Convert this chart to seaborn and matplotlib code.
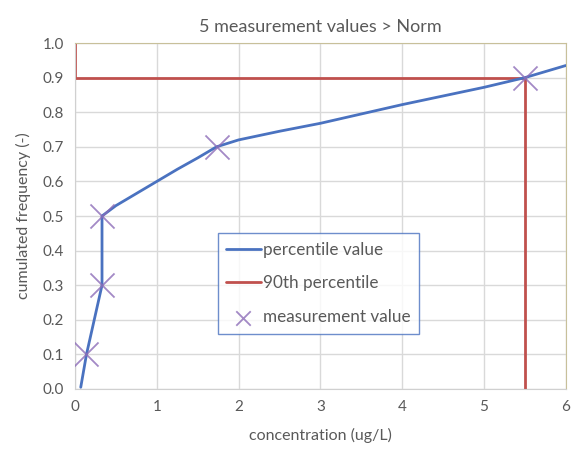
import pandas as pd
import matplotlib.pyplot as plt
import seaborn as sns

# percentile curve (concentration vs cumulated frequency)
curve_x = [0.07, 0.14, 0.33, 0.33, 0.5, 0.75, 1.0, 1.25, 1.5, 1.73, 2.0, 2.5, 3.0, 3.5, 4.0, 4.5, 5.0, 5.5, 6.0]
curve_y = [0.005, 0.1, 0.3, 0.5, 0.53, 0.565, 0.6, 0.635, 0.668, 0.70, 0.72, 0.745, 0.768, 0.795, 0.822, 0.847, 0.872, 0.9, 0.935]

# 90th percentile guide
p90_x = [0.0, 0.0, 5.5, 5.5]
p90_y = [1.0, 0.9, 0.9, 0.0]

# measurement values
meas_x = [0.14, 0.33, 0.33, 1.73, 5.5]
meas_y = [0.1, 0.3, 0.5, 0.7, 0.9]

sns.set_style("white")
plt.rcParams['font.family'] = ['Lato', 'DejaVu Sans']

fig = plt.figure(figsize=(5.74, 4.54), dpi=100)
ax = fig.add_axes([0.1307, 0.1432, 0.855, 0.762])

blue = "#4a72c0"
red = "#c0504d"
purple = "#8c6cb8"

sns.lineplot(x=curve_x, y=curve_y, sort=False, estimator=None, color=blue, lw=2,
             ax=ax, label="percentile value", zorder=3)
sns.lineplot(x=p90_x, y=p90_y, sort=False, estimator=None, color=red, lw=2,
             ax=ax, label="90th percentile", zorder=2)
sns.scatterplot(x=meas_x, y=meas_y, marker="x", s=300, color=purple, linewidth=1.3,
                alpha=0.8, ax=ax, label="measurement value", zorder=4)

ax.set_xlim(0, 6)
ax.set_ylim(0, 1.0)
ax.set_xticks(range(0, 7))
ax.set_yticks([i / 10 for i in range(11)])
ax.set_yticklabels([f"{i / 10:.1f}" for i in range(11)])
ax.grid(True, color="#d9d9d9", lw=1)
ax.set_axisbelow(True)

for side in ["top", "right"]:
    ax.spines[side].set_color("#c8c09a")
for side in ["left", "bottom"]:
    ax.spines[side].set_color("#d0d0d0")

ax.tick_params(axis="both", colors="#595959", labelsize=11, length=0, pad=8)
ax.set_xlabel("concentration (ug/L)", fontsize=11.5, color="#595959", labelpad=10)
ax.set_ylabel("cumulated frequency (-)", fontsize=11.5, color="#595959", labelpad=8)
ax.set_title("5 measurement values > Norm", fontsize=13, color="#595959", pad=8)

leg = ax.legend(loc="upper left", bbox_to_anchor=(0.291, 0.451), borderaxespad=0,
                fontsize=12.3, frameon=True, fancybox=False, borderpad=0.5,
                labelspacing=1.05, handlelength=2.0, handletextpad=0.15,
                labelcolor="#595959", markerscale=0.6)
leg.get_frame().set_edgecolor(blue)
leg.get_frame().set_linewidth(1)

fig.savefig("out.png", dpi=100)
